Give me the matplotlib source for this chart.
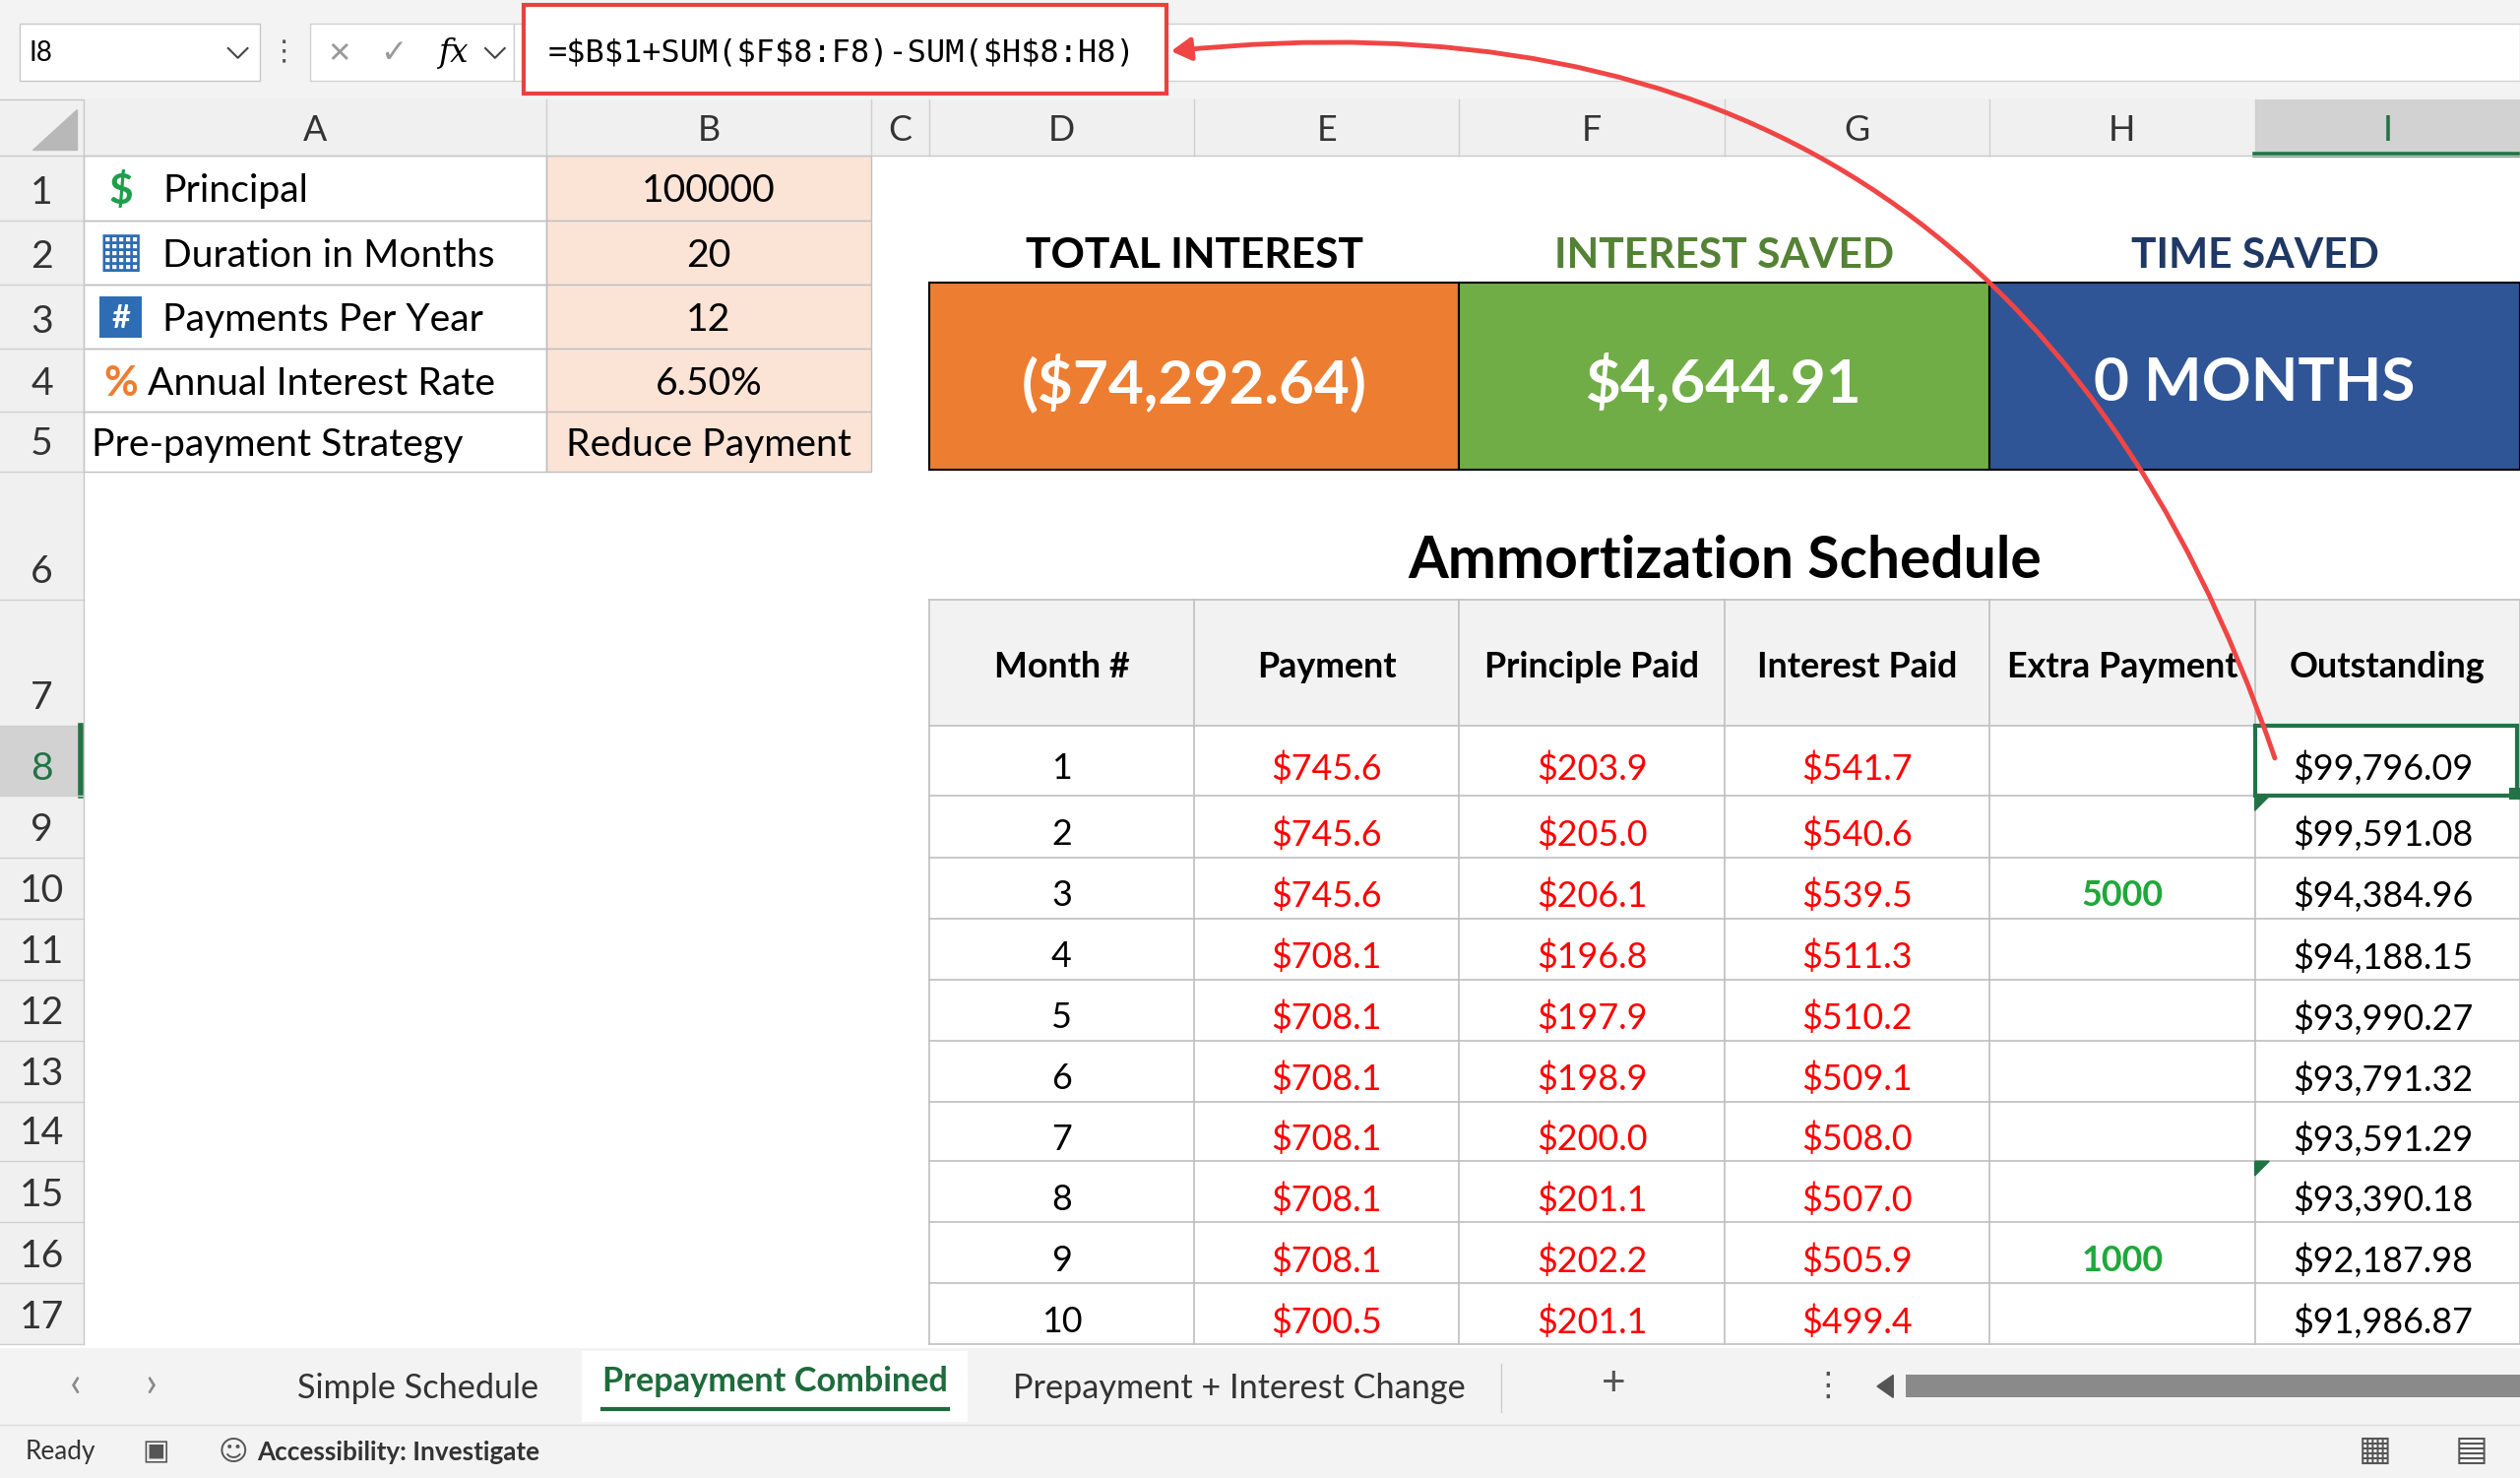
import matplotlib
matplotlib.use("Agg")
import matplotlib.pyplot as plt
from matplotlib.patches import Rectangle, FancyArrowPatch

months = [1, 2, 3, 4, 5, 6, 7, 8, 9, 10]
payment = [745.6, 745.6, 745.6, 708.1, 708.1, 708.1, 708.1, 708.1, 708.1, 700.5]
principle = [203.9, 205.0, 206.1, 196.8, 197.9, 198.9, 200.0, 201.1, 202.2, 201.1]
interest = [541.7, 540.6, 539.5, 511.3, 510.2, 509.1, 508.0, 507.0, 505.9, 499.4]
extra = ["", "", "5000", "", "", "", "", "", "1000", ""]
outstanding = [99796.09, 99591.08, 94384.96, 94188.15, 93990.27, 93791.32, 93591.29, 93390.18, 92187.98, 91986.87]
input_labels = ["Principal", "Duration in Months", "Payments Per Year", "Annual Interest Rate", "Pre-payment Strategy"]
input_values = ["100000", "20", "12", "6.50%", "Reduce Payment"]
headers = ["Month #", "Payment", "Principle Paid", "Interest Paid", "Extra Payment", "Outstanding"]
card_titles = ["TOTAL INTEREST", "INTEREST SAVED", "TIME SAVED"]
card_values = ["($74,292.64)", "$4,644.91", "0 MONTHS"]
tabs = ["Simple Schedule", "Prepayment Combined", "Prepayment + Interest Change"]

W, H = 1568, 919
fig = plt.figure(figsize=(25.6, 15.01), dpi=100)
ax = fig.add_axes([0, 0, 1, 1])
ax.set_xlim(0, W); ax.set_ylim(H, 0); ax.axis("off")
F = "Lato"
SYM = "DejaVu Sans"
def fs(px): return px * 1.633 * 0.72
def T(x, y, s, size, ha="center", color="black", weight="normal", family=F, **kw):
    ax.text(x, y + 2, s, fontsize=fs(size), ha=ha, va="center", color=color, weight=weight,
            family=family, parse_math=False, **kw)
def R(x0, y0, x1, y1, fc="none", ec="none", lw=1, z=1):
    ax.add_patch(Rectangle((x0, y0), x1 - x0, y1 - y0, fc=fc, ec=ec, lw=lw, zorder=z))
def chevron(x, y, c="#444"):
    ax.plot([x - 6, x, x + 6], [y - 3, y + 3, y - 3], color=c, lw=1.5)

cols = [0, 52, 340, 542, 578, 743, 908, 1073, 1238, 1403, 1568]
rows = [62, 97, 137, 177, 217, 256, 293, 373, 451, 495, 533, 571, 609, 647, 685, 722, 760, 798, 836]
grey = "#BFBFBF"

# formula bar
R(0, 0, W, 62, fc="#F3F3F3")
R(12, 15, 162, 50, fc="white", ec="#C8C8C8")
T(18, 31, "I8", 17, ha="left")
chevron(148, 33)
T(177, 31, "⋮", 18, color="#555", family=SYM)
R(193, 15, 320, 50, fc="white", ec="#D0D0D0")
T(211, 31, "✕", 18, color="#999", family=SYM); T(245, 31, "✓", 20, color="#999", family=SYM)
T(282, 31, "fx", 20, family="DejaVu Serif", style="italic")
chevron(308, 33)
R(320, 15, W, 50, fc="white", ec="#D0D0D0")
R(326, 3, 726, 58, fc="white", ec="#E8423F", lw=3, z=3)
T(341, 31, "=$B$1+SUM($F$8:F8)-SUM($H$8:H8)", 19.5, ha="left", family="DejaVu Sans Mono", zorder=4)

# column headers
R(0, 62, W, 97, fc="#F0F0F0")
letters = ["A", "B", "C", "D", "E", "F", "G", "H", "I"]
for i, L in enumerate(letters):
    x0, x1 = cols[i + 1], cols[i + 2]
    if L == "I":
        R(x0, 62, x1, 97, fc="#D2D2D2")
        ax.plot([x0, x1], [96, 96], color="#217346", lw=4)
    T((x0 + x1) / 2, 79, L, 22, color="#217346" if L == "I" else "#333")
    ax.plot([x1, x1], [62, 97], color="#D0D0D0", lw=1)
ax.plot([0, W], [97, 97], color="#C8C8C8", lw=1)
ax.plot([0, 52, 52], [62, 62, 97], color="#C8C8C8", lw=1)
ax.fill([20, 48, 48], [93, 93, 68], color="#B8B8B8")

# row headers
R(0, 97, 52, 836, fc="#F0F0F0")
for r in range(17):
    y0, y1 = rows[r + 1], rows[r + 2]
    if r == 7:
        R(0, y0, 52, y1, fc="#D2D2D2")
        ax.plot([50, 50], [y0, y1], color="#217346", lw=4)
    T(26, y1 - 19, str(r + 1), 24, color="#217346" if r == 7 else "#333")
    ax.plot([0, 52], [y1, y1], color="#D0D0D0", lw=1)
ax.plot([52, 52], [97, 836], color="#C8C8C8", lw=1)

# inputs
icons = [("$", "#1E9E4A"), ("▦", "#2E6DB4"), ("#", "#2E6DB4"), ("%", "#ED7D31"), ("", "")]
for i in range(5):
    y0, y1 = rows[i + 1], rows[i + 2]
    R(340, y0, 542, y1, fc="#FBE3D6", ec=grey)
    R(52, y0, 340, y1, ec=grey)
    yc = (y0 + y1) / 2
    sym, c = icons[i]
    if sym:
        if sym == "#":
            R(62, yc - 13, 88, yc + 13, fc="#2E6DB4", ec="none", z=2)
            T(75, yc - 1, "#", 20, color="white", weight="bold", zorder=3)
        elif sym == "▦":
            T(75, yc - 2, sym, 30, color=c, family=SYM)
        else:
            T(75, yc, sym, 26, color=c, weight="bold")
        T(101 if i < 3 else 92, yc, input_labels[i], 24, ha="left")
    else:
        T(57, yc, input_labels[i], 24, ha="left")
    T(441, yc, input_values[i], 24)

# cards
card_cols = ["#ED7D31", "#70AD47", "#2F5597"]
title_cols = ["black", "#548235", "#1F3864"]
for k in range(3):
    x0, x1 = cols[4 + 2 * k], cols[6 + 2 * k]
    T((x0 + x1) / 2, 157, card_titles[k], 26, color=title_cols[k], weight="bold")
    R(x0, 176, x1, 292, fc=card_cols[k], ec="black", lw=1.5)
    T((x0 + x1) / 2, 236, card_values[k], 38, color="white", weight="bold")

T(1073, 347, "Ammortization Schedule", 36, weight="bold")

# table
R(578, 373, 1568, 451, fc="#F2F2F2")
for j, h in enumerate(headers):
    x0, x1 = cols[4 + j], cols[5 + j]
    T((x0 + x1) / 2, 413, h, 22, weight="bold")
for c in cols[4:]:
    ax.plot([c, c], [373, 836], color=grey, lw=1.2)
for y in [373] + rows[8:]:
    ax.plot([578, 1568], [y, y], color=grey, lw=1.2)
red = "#FF0000"
for i in range(10):
    y0, y1 = rows[8 + i], rows[9 + i]
    yc = (y0 + y1) / 2 + 3
    cx = lambda j: (cols[4 + j] + cols[5 + j]) / 2
    T(cx(0), yc, str(months[i]), 22)
    T(cx(1), yc, f"${payment[i]:.1f}", 22, color=red)
    T(cx(2), yc, f"${principle[i]:.1f}", 22, color=red)
    T(cx(3), yc, f"${interest[i]:.1f}", 22, color=red)
    if extra[i]:
        T(cx(4), yc, extra[i], 22, color="#1FA83A", weight="bold")
    T(cx(5) - 3, yc, f"${outstanding[i]:,.2f}", 22)
R(1403, 451, 1566, 495, ec="#217346", lw=3, z=3)
R(1561, 490, 1568, 497, fc="#217346", z=4)
for yy in [495, 722]:
    ax.fill([1403, 1412, 1403], [yy, yy, yy + 9], color="#217346", zorder=4)

# arrow
arr = FancyArrowPatch((1416, 473), (727, 32), connectionstyle="arc3,rad=0.4",
                      arrowstyle="-|>,head_length=12,head_width=7", color="#F04545", lw=3.5, zorder=6)
ax.add_patch(arr)

# sheet tabs
R(0, 838, W, 886, fc="#F3F3F3")
T(47, 859, "‹", 26, color="#888"); T(94, 859, "›", 26, color="#888")
R(362, 840, 602, 884, fc="white")
T(260, 861, tabs[0], 21, color="#333")
T(482, 857, tabs[1], 21, color="#1E6B3C", weight="bold")
ax.plot([375, 590], [876, 876], color="#1E6B3C", lw=3)
T(771, 861, tabs[2], 21, color="#333")
ax.plot([934, 934], [848, 878], color="#CCC", lw=1)
T(1004, 858, "+", 26, color="#555")
T(1137, 860, "⋮", 20, color="#555", family=SYM)
ax.fill([1168, 1178, 1178], [862, 855, 869], color="#555")
R(1186, 855, 1568, 869, fc="#8A8A8A")
# status bar
R(0, 886, W, 919, fc="#F3F3F3")
ax.plot([0, W], [886, 886], color="#DDD", lw=1)
T(16, 901, "Ready", 16, ha="left", color="#333")
T(97, 901, "▣", 18, color="#555", family=SYM)
T(145, 901, "☺", 18, color="#555", family=SYM)
T(160, 901, "Accessibility: Investigate", 16, ha="left", color="#333", weight="bold")
T(1478, 900, "▦", 22, color="#555", family=SYM)
T(1538, 900, "▤", 22, color="#555", family=SYM)

fig.savefig("out.png", dpi=100)
